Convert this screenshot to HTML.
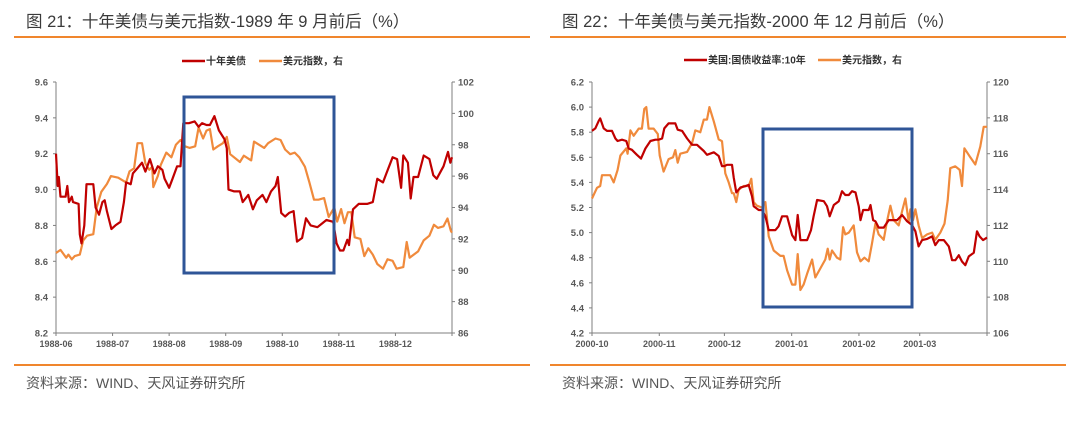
<!DOCTYPE html>
<html><head><meta charset="utf-8">
<style>
html,body{margin:0;padding:0;background:#fff;}
body{width:1080px;height:417px;overflow:hidden;font-family:"Liberation Sans","Noto Sans CJK SC",sans-serif;}
svg text{font-family:"Liberation Sans","Noto Sans CJK SC",sans-serif;}
</style></head>
<body>
<svg id="root" width="1080" height="417" viewBox="0 0 1080 417" xmlns="http://www.w3.org/2000/svg">
  <g>
    <text x="26" y="27" font-size="16.5" fill="#3a3a3a">图 21：十年美债与美元指数-1989 年 9 月前后（%）</text>
    <line x1="14" y1="37" x2="530" y2="37" stroke="#f0862d" stroke-width="2"/>
  </g>
  <g>
    <text x="562" y="27" font-size="16.5" fill="#3a3a3a">图 22：十年美债与美元指数-2000 年 12 月前后（%）</text>
    <line x1="550" y1="37" x2="1066" y2="37" stroke="#f0862d" stroke-width="2"/>
  </g>
  <line x1="14" y1="365" x2="530" y2="365" stroke="#f0862d" stroke-width="2"/>
  <text x="26" y="388" font-size="14" fill="#555">资料来源：WIND、天风证券研究所</text>
  <line x1="550" y1="365" x2="1066" y2="365" stroke="#f0862d" stroke-width="2"/>
  <text x="562" y="388" font-size="14" fill="#555">资料来源：WIND、天风证券研究所</text>
  <g id="leftChart"></g>
  <g id="rightChart"></g>
</svg>
<script>
// ===== Left chart data (x in months since 1988-06) =====
const leftCategories = ["1988-06","1988-07","1988-08","1988-09","1988-10","1988-11","1988-12"];
const leftYTicks = [8.2,8.4,8.6,8.8,9.0,9.2,9.4,9.6];
const leftY2Ticks = [86,88,90,92,94,96,98,100,102];
const leftYieldX = [0,0.03,0.05,0.08,0.17,0.2,0.23,0.28,0.3,0.4,0.42,0.45,0.5,0.54,0.61,0.66,0.7,0.76,0.82,0.86,0.9,0.98,1.05,1.14,1.2,1.24,1.32,1.36,1.44,1.52,1.58,1.66,1.74,1.8,1.88,1.92,2,2.06,2.14,2.2,2.25,2.35,2.45,2.52,2.58,2.66,2.72,2.8,2.88,2.98,3.02,3.05,3.15,3.25,3.3,3.4,3.48,3.55,3.65,3.72,3.8,3.88,3.92,3.98,4.05,4.12,4.2,4.26,4.35,4.42,4.5,4.62,4.7,4.78,4.9,4.96,5.02,5.08,5.15,5.18,5.25,5.35,5.5,5.6,5.68,5.78,5.84,5.95,6.03,6.1,6.14,6.22,6.27,6.32,6.4,6.5,6.6,6.67,6.73,6.85,6.93,6.97,7];
const leftYield = [9.2,9.02,9.07,8.96,8.96,9.02,8.93,8.96,8.93,8.92,8.75,8.7,8.8,9.03,9.03,9.03,8.9,8.86,8.93,8.94,8.88,8.78,8.8,8.82,8.93,9.04,9.03,9.09,9.12,9.15,9.1,9.17,9.09,9.13,9.11,9.06,9.01,9.06,9.13,9.13,9.37,9.37,9.38,9.35,9.37,9.36,9.36,9.41,9.33,9.28,9.23,9.0,8.99,8.99,8.93,8.97,8.89,8.94,8.97,8.93,8.99,9.02,9.07,8.87,8.85,8.87,8.88,8.71,8.73,8.84,8.8,8.79,8.81,8.83,8.82,8.7,8.66,8.66,8.72,8.69,8.89,8.92,8.92,8.93,9.06,9.04,9.09,9.18,9.17,9.01,9.19,9.15,8.95,9.07,9.07,9.19,9.17,9.08,9.06,9.13,9.21,9.15,9.18];
const leftDxyX = [0,0.08,0.18,0.22,0.28,0.33,0.42,0.48,0.55,0.66,0.72,0.8,0.9,0.97,1.1,1.24,1.3,1.38,1.44,1.52,1.58,1.65,1.7,1.72,1.8,1.85,1.95,2.04,2.12,2.2,2.28,2.36,2.46,2.52,2.6,2.66,2.72,2.78,2.86,2.95,3.02,3.08,3.25,3.32,3.45,3.5,3.68,3.75,3.88,3.97,4.05,4.14,4.22,4.3,4.4,4.48,4.56,4.64,4.74,4.82,4.92,4.97,5.04,5.1,5.16,5.22,5.28,5.38,5.45,5.52,5.6,5.68,5.78,5.86,5.95,6.02,6.14,6.2,6.25,6.4,6.5,6.6,6.68,6.75,6.85,6.92,6.98,7];
const leftDxy = [91.1,91.3,90.8,91.0,90.7,90.9,91.0,91.9,92.2,92.3,94.0,95.0,95.5,96.0,95.9,95.6,96.3,96.5,98.1,98.1,96.8,96.4,96.6,95.3,96.0,96.7,97.5,97.2,98.0,98.3,97.9,97.8,97.9,99.1,98.4,98.9,99.0,97.7,97.9,98.1,98.5,97.4,96.9,97.3,97.0,98.2,97.8,98.1,98.4,98.3,97.7,97.4,97.5,97.2,96.6,95.6,94.5,94.5,94.6,93.4,94.0,93.1,93.9,93.0,93.7,93.7,92.1,92.0,90.9,91.4,91.0,90.4,90.1,90.7,90.6,90.1,90.2,91.8,90.8,91.2,91.9,92.2,92.9,92.7,92.8,93.3,92.5,92.4];

// ===== Right chart data (x in days since 2000-10-01) =====
const rightCategories = ["2000-10","2000-11","2000-12","2001-01","2001-02","2001-03"];
const rightCategoryDays = [0,31,61,92,123,151];
const rightYTicks = [4.2,4.4,4.6,4.8,5.0,5.2,5.4,5.6,5.8,6.0,6.2];
const rightY2Ticks = [106,108,110,112,114,116,118,120];
const rightYieldX = [0,1.5,3.1,3.8,5.4,6.9,9.2,10.8,11.8,13.8,15.8,16.9,18.4,20.7,22.6,24.6,26.9,29.2,30.7,32.3,33.3,35.3,38.4,39.5,41.5,43.8,46.1,48.4,51.5,53,56.1,58.4,59.9,61,62.2,64.5,65.3,66.5,68.4,70.7,72.2,73.7,74.5,76.8,78.3,79.9,81.4,84.5,86,87.6,89.9,92.2,93.7,94.8,96,99.1,100.9,102.1,103.7,106.8,108.3,109.5,111.4,113.7,115.2,116.7,118.3,119.8,121.4,122.9,123.7,124.9,127.5,128.3,129.5,130.6,132.1,134.4,136.7,139,140.6,142.9,145.2,147.5,149,150.5,152.1,154.4,156.7,158.2,159.8,162.1,164.4,165.9,167.4,169,170.5,172,173.6,175.9,177.4,178.6,180.2,182];
const rightYield = [5.81,5.83,5.89,5.91,5.83,5.81,5.81,5.75,5.73,5.74,5.73,5.67,5.66,5.62,5.59,5.67,5.73,5.74,5.74,5.75,5.83,5.87,5.87,5.82,5.81,5.75,5.7,5.7,5.65,5.62,5.64,5.61,5.53,5.53,5.54,5.54,5.44,5.32,5.36,5.37,5.38,5.29,5.21,5.18,5.18,5.13,5.02,5.02,5.05,5.13,5.13,4.98,4.94,5.14,4.94,4.94,5.02,5.13,5.26,5.25,5.21,5.13,5.22,5.25,5.33,5.3,5.3,5.33,5.32,5.21,5.1,5.18,5.18,5.22,5.1,5.09,5.04,5.04,5.1,5.1,5.1,5.14,5.09,5.06,5.01,4.89,4.94,4.95,4.97,4.9,4.94,4.94,4.89,4.78,4.78,4.82,4.77,4.74,4.81,4.84,5.01,4.97,4.94,4.96];
const rightDxyX = [0,2.3,3.8,4.6,6.9,8.4,10,11.8,13.1,15.8,16.4,17.7,19.2,21.5,23,24.1,25,26.1,28.4,30.3,31.2,33,35.3,37.3,38.4,39.5,40.7,43.8,46.1,47.6,49.9,51.5,53,54.1,56.1,58.4,59.9,61.4,63,64.5,65.3,66.5,67.6,69.9,72.2,73.4,74.5,76,78.3,79.9,81.4,83.7,86.8,88.3,89.9,92.2,93.7,94.8,96,97.5,99.1,101.4,102.9,105.2,107.5,108.6,109.5,110.6,112.9,114.4,115.7,116.7,118.3,120.6,122.1,123.7,125.5,127.5,129,130.6,132.1,134.4,135.9,137.5,139,141.3,142.9,144.4,145.9,146.7,147.9,149,150.5,152.1,154.4,156.7,158.2,160.5,162.4,163.9,165.1,167.4,169.4,170.5,171.6,174.3,176.6,178.9,180.5,182];
const rightDxy = [113.5,114.1,114.2,114.8,114.8,114.8,114.4,115.1,115.9,116.3,116.0,117.3,117.0,117.4,117.4,118.5,118.6,117.4,117.4,117.1,115.9,115.0,115.7,115.8,116.2,115.5,116.0,116.1,116.6,117.3,117.2,117.9,117.9,118.6,117.8,116.8,116.7,114.9,114.4,113.8,113.8,113.3,114.0,114.2,114.2,114.6,113.3,113.1,113.0,113.3,111.4,110.6,110.3,110.3,109.5,108.7,108.7,110.4,108.4,108.7,109.3,110.1,109.1,109.6,110.1,110.7,110.1,110.6,110.2,110.1,111.9,111.5,111.6,112.0,110.5,110.0,110.2,110.0,111.0,112.1,111.5,111.2,112.2,113.1,112.3,112.0,112.8,113.5,112.2,112.9,112.3,112.9,112.0,111.3,111.5,111.6,111.2,111.6,112.1,113.4,115.2,115.3,115.1,114.2,116.3,115.8,115.4,116.4,117.5,117.5];

const NS = "http://www.w3.org/2000/svg";
const RED = "#c00000", ORANGE = "#f08a3c", AXIS = "#7f7f7f", LABEL = "#595959";
function mk(tag, attrs, parent){
  const e = document.createElementNS(NS, tag);
  for (const k in attrs) e.setAttribute(k, attrs[k]);
  parent.appendChild(e);
  return e;
}
function lin(d0,d1,r0,r1){ return v => r0 + (v-d0)/(d1-d0)*(r1-r0); }

function drawChart(g, cfg){
  const x = lin(cfg.xMin, cfg.xMax, cfg.left, cfg.right);
  const y = lin(cfg.yMin, cfg.yMax, cfg.bottom, cfg.top);
  const y2 = lin(cfg.y2Min, cfg.y2Max, cfg.bottom, cfg.top);
  // axes
  const la = mk("line",{x1:cfg.left,y1:cfg.top,x2:cfg.left,y2:cfg.bottom,stroke:AXIS,"stroke-width":1},g);
  
  
  const ra = mk("line",{x1:cfg.right,y1:cfg.top,x2:cfg.right,y2:cfg.bottom,stroke:AXIS,"stroke-width":1},g);
  
  
  const xa = mk("line",{x1:cfg.left,y1:cfg.bottom,x2:cfg.right,y2:cfg.bottom,stroke:AXIS,"stroke-width":1},g);
  
  
  cfg.yTicks.forEach(v=>{
    const yy = y(v);
    mk("line",{x1:cfg.left-3,y1:yy,x2:cfg.left,y2:yy,stroke:AXIS},g);
    const t = mk("text",{x:cfg.left-8,y:yy+3.5,"font-size":9.5,"font-weight":"bold",fill:LABEL,"text-anchor":"end"},g);
    t.textContent = v.toFixed(1);
    
    
  });
  cfg.y2Ticks.forEach(v=>{
    const yy = y2(v);
    mk("line",{x1:cfg.right,y1:yy,x2:cfg.right+3,y2:yy,stroke:AXIS},g);
    const t = mk("text",{x:cfg.right+6,y:yy+3.5,"font-size":9.5,"font-weight":"bold",fill:LABEL},g);
    t.textContent = String(v);
    
    
  });
  const tickPos = cfg.catPos.concat([cfg.xMax]);
  tickPos.forEach(p=>{ mk("line",{x1:x(p),y1:cfg.bottom,x2:x(p),y2:cfg.bottom+3,stroke:AXIS},g); });
  cfg.cats.forEach((c,i)=>{
    const t = mk("text",{x:x(cfg.catPos[i]),y:cfg.bottom+14,"font-size":9,"font-weight":"bold",fill:LABEL,"text-anchor":"middle"},g);
    t.textContent = c;
    
    
  });
  // series
  function series(xs, vs, sc, color, name){
    const d = xs.map((xv,i)=>(i?"L":"M")+x(xv).toFixed(1)+" "+sc(vs[i]).toFixed(1)).join(" ");
    const p = mk("path",{d:d,fill:"none",stroke:color,"stroke-width":2.2,"stroke-linejoin":"round"},g);
    
    
  }
  series(cfg.dxyX, cfg.dxy, y2, ORANGE, 'dxy-line');
  series(cfg.yieldX, cfg.yld, y, RED, 'yield-line');
  // highlight box
  const b = mk("rect",{x:cfg.box[0],y:cfg.box[1],width:cfg.box[2],height:cfg.box[3],fill:"none",stroke:"#2f5597","stroke-width":3},g);
  
  
  // legend
  const L = cfg.legend;
  const l1 = mk("line",{x1:L[0],y1:L[4],x2:L[0]+23,y2:L[4],stroke:RED,"stroke-width":2.5},g);
  
  
  const t1 = mk("text",{x:L[0]+24,y:L[4]+3.5,"font-size":10,"font-weight":"bold",fill:"#333"},g);
  t1.textContent = L[1];
  
  
  const l2 = mk("line",{x1:L[2],y1:L[4],x2:L[2]+23,y2:L[4],stroke:ORANGE,"stroke-width":2.5},g);
  
  
  const t2 = mk("text",{x:L[2]+24,y:L[4]+3.5,"font-size":10,"font-weight":"bold",fill:"#333"},g);
  t2.textContent = L[3];
  
  
}

drawChart(document.getElementById('leftChart'), {
  left:56, right:452, top:82, bottom:333,
  xMin:0, xMax:7, yMin:8.2, yMax:9.6, y2Min:86, y2Max:102,
  yTicks:leftYTicks, y2Ticks:leftY2Ticks,
  cats:leftCategories, catPos:[0,1,2,3,4,5,6],
  yieldX:leftYieldX, yld:leftYield, dxyX:leftDxyX, dxy:leftDxy,
  box:[184,97,150,176],
  legend:[182,"十年美债",259,"美元指数，右",61]
});
drawChart(document.getElementById('rightChart'), {
  left:592, right:987, top:82, bottom:333,
  xMin:0, xMax:182, yMin:4.2, yMax:6.2, y2Min:106, y2Max:120,
  yTicks:rightYTicks, y2Ticks:rightY2Ticks,
  cats:rightCategories, catPos:rightCategoryDays,
  yieldX:rightYieldX, yld:rightYield, dxyX:rightDxyX, dxy:rightDxy,
  box:[763,129,149,178],
  legend:[684,"美国:国债收益率:10年",818,"美元指数，右",60]
});
</script>
</body></html>
